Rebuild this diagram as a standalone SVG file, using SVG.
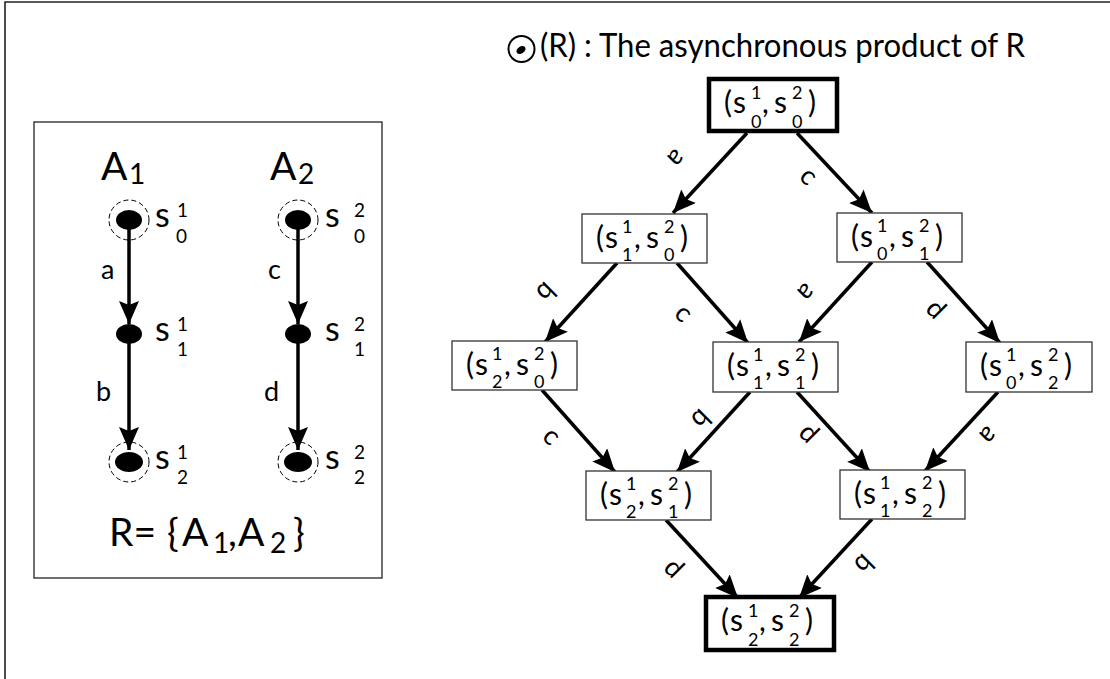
<svg xmlns="http://www.w3.org/2000/svg" width="1110" height="679" viewBox="0 0 1110 679">
  <style>
    text { font-family: Lato, "Open Sans", "Liberation Sans", sans-serif; fill: #000; }
    .frame { fill: none; stroke: #222; stroke-width: 1.6; }
    .panel { fill: #fff; stroke: #333; stroke-width: 1.4; }
    .state { fill: #fff; stroke: #333; stroke-width: 1.3; }
    .state-key { fill: #fff; stroke: #000; stroke-width: 4.5; }
    .edge { stroke: #000; stroke-width: 3.5; fill: none; marker-end: url(#arrow); }
    .dot { fill: #000; }
    .ring { fill: none; stroke: #000; stroke-width: 1; stroke-dasharray: 5 3; }
    .main { font-size: 30px; }
    .idx { font-size: 18px; }
    .elbl { font-size: 27px; text-anchor: middle; dominant-baseline: central; }
    .aut { font-size: 39px; }
    .autsub { font-size: 28px; }
    .sname { font-size: 34px; }
    .sidx { font-size: 19px; }
    .tlbl { font-size: 27px; }
  </style>
  <defs>
    <marker id="arrow" markerUnits="userSpaceOnUse" markerWidth="24" markerHeight="20" viewBox="0 0 24 20" refX="23" refY="10" orient="auto">
      <path d="M0,0 L23,10 L0,20 L4,10 z" fill="#000"/>
    </marker>
  </defs>

  <!-- outer frame -->
  <path class="frame" d="M5,679 V2 H1110"/>

  <!-- component automata A1, A2 -->
  <g id="automata">
    <rect class="panel" x="34" y="122" width="348" height="456"/>
    <text class="aut" x="101" y="180">A<tspan class="autsub" x="129" y="184">1</tspan></text>
    <text class="aut" x="270" y="180">A<tspan class="autsub" x="298" y="184">2</tspan></text>

    <g id="a1-s0">
      <circle class="ring" cx="129" cy="220" r="20"/>
      <ellipse class="dot" cx="129" cy="220" rx="13" ry="10"/>
      <text><tspan class="sname" x="155" y="227">s</tspan><tspan class="sidx" x="177" y="217">1</tspan><tspan class="sidx" x="176" y="243">0</tspan></text>
    </g>
    <g id="a1-s1">
      <ellipse class="dot" cx="129" cy="334" rx="13" ry="10"/>
      <text><tspan class="sname" x="155" y="341">s</tspan><tspan class="sidx" x="177" y="331">1</tspan><tspan class="sidx" x="177" y="356">1</tspan></text>
    </g>
    <g id="a1-s2">
      <circle class="ring" cx="129" cy="462" r="20"/>
      <ellipse class="dot" cx="129" cy="462" rx="14" ry="10"/>
      <text><tspan class="sname" x="155" y="469">s</tspan><tspan class="sidx" x="177" y="459">1</tspan><tspan class="sidx" x="177" y="484">2</tspan></text>
    </g>
    <g id="a2-s0">
      <circle class="ring" cx="298" cy="220" r="20"/>
      <ellipse class="dot" cx="298" cy="220" rx="13" ry="10"/>
      <text><tspan class="sname" x="325" y="227">s</tspan><tspan class="sidx" x="354" y="217">2</tspan><tspan class="sidx" x="354" y="243">0</tspan></text>
    </g>
    <g id="a2-s1">
      <ellipse class="dot" cx="298" cy="334" rx="13" ry="10"/>
      <text><tspan class="sname" x="325" y="341">s</tspan><tspan class="sidx" x="354" y="331">2</tspan><tspan class="sidx" x="354" y="356">1</tspan></text>
    </g>
    <g id="a2-s2">
      <circle class="ring" cx="298" cy="462" r="20"/>
      <ellipse class="dot" cx="298" cy="462" rx="14" ry="10"/>
      <text><tspan class="sname" x="325" y="469">s</tspan><tspan class="sidx" x="354" y="459">2</tspan><tspan class="sidx" x="354" y="484">2</tspan></text>
    </g>

    <g id="automata-edges">
      <line class="edge" x1="129" y1="222" x2="129" y2="324"/>
      <line class="edge" x1="129" y1="336" x2="129" y2="450"/>
      <line class="edge" x1="298" y1="222" x2="298" y2="324"/>
      <line class="edge" x1="298" y1="336" x2="298" y2="450"/>
      <text class="tlbl" x="101" y="279">a</text>
      <text class="tlbl" x="96" y="401">b</text>
      <text class="tlbl" x="268" y="279">c</text>
      <text class="tlbl" x="264" y="401">d</text>
    </g>

    <text class="aut" y="546"><tspan x="109">R=</tspan><tspan x="167">{</tspan><tspan x="182">A</tspan><tspan class="autsub" x="213" y="553">1</tspan><tspan x="228" y="546">,</tspan><tspan x="238">A</tspan><tspan class="autsub" x="270" y="553">2</tspan><tspan x="293" y="546">}</tspan></text>
  </g>

  <!-- title of the product -->
  <g id="title">
    <circle cx="521.5" cy="49" r="13" fill="none" stroke="#000" stroke-width="2"/>
    <ellipse cx="521" cy="50" rx="5" ry="3.5" transform="rotate(-35 521 50)" fill="#000"/>
    <text x="540" y="57" font-size="32" textLength="485" lengthAdjust="spacingAndGlyphs">(R) : The asynchronous product of R</text>
  </g>

  <!-- connectors of the product -->
  <g id="connectors">
    <line class="edge" x1="747" y1="133" x2="673" y2="213"/>
    <line class="edge" x1="797" y1="133" x2="872" y2="213"/>
    <line class="edge" x1="617" y1="263" x2="545" y2="342"/>
    <line class="edge" x1="677" y1="263" x2="748" y2="343"/>
    <line class="edge" x1="872" y1="262" x2="799" y2="342"/>
    <line class="edge" x1="927" y1="262" x2="1000" y2="343"/>
    <line class="edge" x1="542" y1="390" x2="615" y2="472"/>
    <line class="edge" x1="750" y1="392" x2="677" y2="472"/>
    <line class="edge" x1="797" y1="392" x2="870" y2="472"/>
    <line class="edge" x1="998" y1="392" x2="925" y2="471"/>
    <line class="edge" x1="666" y1="520" x2="738" y2="598"/>
    <line class="edge" x1="872" y1="519" x2="799" y2="598"/>

    <text class="elbl" transform="translate(678 160) rotate(135)">a</text>
    <text class="elbl" transform="translate(810 175) rotate(45)">c</text>
    <text class="elbl" transform="translate(547 293) rotate(135)">b</text>
    <text class="elbl" transform="translate(685 312) rotate(45)">c</text>
    <text class="elbl" transform="translate(808 294) rotate(135)">a</text>
    <text class="elbl" transform="translate(937 308) rotate(45)">d</text>
    <text class="elbl" transform="translate(553 435) rotate(45)">c</text>
    <text class="elbl" transform="translate(702 420) rotate(135)">b</text>
    <text class="elbl" transform="translate(810 432) rotate(45)">d</text>
    <text class="elbl" transform="translate(990 437) rotate(135)">a</text>
    <text class="elbl" transform="translate(675 567) rotate(45)">d</text>
    <text class="elbl" transform="translate(865 565) rotate(135)">b</text>
  </g>

  <!-- product states -->
  <g id="s00">
    <rect class="state-key" x="709" y="79" width="128" height="52"/>
    <text class="main"><tspan x="724" y="113">(</tspan><tspan x="733">s</tspan><tspan class="idx" x="751" y="99">1</tspan><tspan class="idx" x="751" y="128">0</tspan><tspan x="762" y="113">,</tspan><tspan x="774">s</tspan><tspan class="idx" x="792" y="99">2</tspan><tspan class="idx" x="792" y="128">0</tspan><tspan x="808" y="113">)</tspan></text>
  </g>
  <g id="s10">
    <rect class="state" x="582" y="214" width="125" height="49"/>
    <text class="main"><tspan x="596" y="248">(</tspan><tspan x="605">s</tspan><tspan class="idx" x="622" y="233">1</tspan><tspan class="idx" x="622" y="261">1</tspan><tspan x="634" y="248">,</tspan><tspan x="646">s</tspan><tspan class="idx" x="664" y="233">2</tspan><tspan class="idx" x="664" y="261">0</tspan><tspan x="680" y="248">)</tspan></text>
  </g>
  <g id="s01">
    <rect class="state" x="837" y="213" width="125" height="49"/>
    <text class="main"><tspan x="851" y="247">(</tspan><tspan x="860">s</tspan><tspan class="idx" x="877" y="232">1</tspan><tspan class="idx" x="877" y="260">0</tspan><tspan x="889" y="247">,</tspan><tspan x="901">s</tspan><tspan class="idx" x="919" y="232">2</tspan><tspan class="idx" x="919" y="260">1</tspan><tspan x="935" y="247">)</tspan></text>
  </g>
  <g id="s20">
    <rect class="state" x="452" y="341" width="125" height="49"/>
    <text class="main"><tspan x="466" y="375">(</tspan><tspan x="475">s</tspan><tspan class="idx" x="492" y="360">1</tspan><tspan class="idx" x="492" y="388">2</tspan><tspan x="504" y="375">,</tspan><tspan x="516">s</tspan><tspan class="idx" x="534" y="360">2</tspan><tspan class="idx" x="534" y="388">0</tspan><tspan x="550" y="375">)</tspan></text>
  </g>
  <g id="s11">
    <rect class="state" x="713" y="342" width="125" height="50"/>
    <text class="main"><tspan x="727" y="376">(</tspan><tspan x="736">s</tspan><tspan class="idx" x="753" y="361">1</tspan><tspan class="idx" x="753" y="389">1</tspan><tspan x="765" y="376">,</tspan><tspan x="777">s</tspan><tspan class="idx" x="795" y="361">2</tspan><tspan class="idx" x="795" y="389">1</tspan><tspan x="811" y="376">)</tspan></text>
  </g>
  <g id="s02">
    <rect class="state" x="966" y="342" width="126" height="50"/>
    <text class="main"><tspan x="980" y="376">(</tspan><tspan x="989">s</tspan><tspan class="idx" x="1006" y="361">1</tspan><tspan class="idx" x="1006" y="389">0</tspan><tspan x="1018" y="376">,</tspan><tspan x="1030">s</tspan><tspan class="idx" x="1048" y="361">2</tspan><tspan class="idx" x="1048" y="389">2</tspan><tspan x="1064" y="376">)</tspan></text>
  </g>
  <g id="s21">
    <rect class="state" x="586" y="471" width="125" height="49"/>
    <text class="main"><tspan x="600" y="505">(</tspan><tspan x="609">s</tspan><tspan class="idx" x="626" y="490">1</tspan><tspan class="idx" x="626" y="518">2</tspan><tspan x="638" y="505">,</tspan><tspan x="650">s</tspan><tspan class="idx" x="668" y="490">2</tspan><tspan class="idx" x="668" y="518">1</tspan><tspan x="684" y="505">)</tspan></text>
  </g>
  <g id="s12">
    <rect class="state" x="840" y="470" width="125" height="49"/>
    <text class="main"><tspan x="854" y="504">(</tspan><tspan x="863">s</tspan><tspan class="idx" x="880" y="489">1</tspan><tspan class="idx" x="880" y="517">1</tspan><tspan x="892" y="504">,</tspan><tspan x="904">s</tspan><tspan class="idx" x="922" y="489">2</tspan><tspan class="idx" x="922" y="517">2</tspan><tspan x="938" y="504">)</tspan></text>
  </g>
  <g id="s22">
    <rect class="state-key" x="706" y="597" width="128" height="53"/>
    <text class="main"><tspan x="721" y="631">(</tspan><tspan x="730">s</tspan><tspan class="idx" x="748" y="617">1</tspan><tspan class="idx" x="748" y="646">2</tspan><tspan x="759" y="631">,</tspan><tspan x="771">s</tspan><tspan class="idx" x="789" y="617">2</tspan><tspan class="idx" x="789" y="646">2</tspan><tspan x="805" y="631">)</tspan></text>
  </g>
</svg>
